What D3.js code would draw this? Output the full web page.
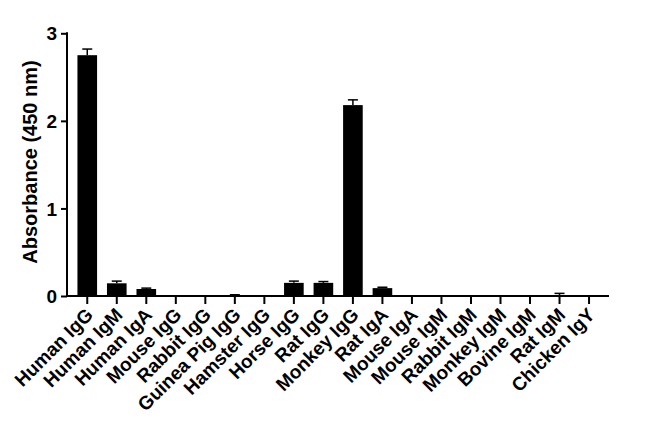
<!DOCTYPE html>
<html><head><meta charset="utf-8">
<script src="https://cdn.jsdelivr.net/npm/d3@7"></script>
<style>body{margin:0;background:#fff}svg{display:block}text{font-family:"Liberation Sans",Arial,sans-serif;font-weight:bold;fill:#000}</style>
</head><body><svg id="c" width="650" height="432"></svg>
<script>
const categories = ["Human IgG","Human IgM","Human IgA","Mouse IgG","Rabbit IgG","Guinea Pig IgG","Hamster IgG","Horse IgG","Rat IgG","Monkey IgG","Rat IgA","Mouse IgA","Mouse IgM","Rabbit IgM","Monkey IgM","Bovine IgM","Rat IgM","Chicken IgY"];
const values = [2.75,0.145,0.08,0,0,0.006,0,0.15,0.15,2.18,0.09,0,0,0,0,0,0.01,0];
const errors = [0.07,0.025,0.01,0,0,0.008,0,0.02,0.015,0.06,0.01,0,0,0,0,0,0.02,0];
const yTicks = [0,1,2,3];
const yLabel = "Absorbance (450 nm)";

const svg = d3.select("#c");
const x = d3.scaleBand().domain(categories).range([72.5,603.8]).paddingInner(0.335).paddingOuter(0.1675);
const y = d3.scaleLinear().domain([0,3]).range([296,33.3]);

// bars
svg.append("g").selectAll("rect").data(categories).join("rect")
  .attr("x", d=>x(d)).attr("width", x.bandwidth())
  .attr("y", (d,i)=>y(values[i])).attr("height",(d,i)=>y(0)-y(values[i]))
  .attr("fill","#000");
// error bars
const eg = svg.append("g").attr("stroke","#000").attr("stroke-width",1.5);
categories.forEach((c,i)=>{
  if(errors[i]<=0) return;
  const cx = x(c)+x.bandwidth()/2;
  eg.append("line").attr("x1",cx).attr("x2",cx).attr("y1",y(values[i])).attr("y2",y(values[i]+errors[i]));
  eg.append("line").attr("x1",cx-5).attr("x2",cx+5).attr("y1",y(values[i]+errors[i])).attr("y2",y(values[i]+errors[i]));
});

// y axis
const ya = svg.append("g").attr("transform","translate(67,0)")
  .call(d3.axisLeft(y).tickValues(yTicks).tickFormat(d3.format("d")).tickSize(6).tickPadding(4));
ya.select(".domain").attr("stroke-width",2).attr("d","M0,297V32.3");
ya.selectAll(".tick line").attr("stroke-width",2);
ya.selectAll(".tick text").style("font-size","19px").attr("dy","0.35em");

// x axis
const xa = svg.append("g").attr("transform","translate(0,296)")
  .call(d3.axisBottom(x).tickSize(8).tickSizeOuter(0));
xa.select(".domain").attr("stroke-width",2).attr("d","M66,0H609");
xa.selectAll(".tick line").attr("stroke-width",2);
xa.selectAll(".tick text").style("font-size","19px")
  .attr("text-anchor","end").attr("dy","0").attr("y",0)
  .attr("transform","translate(7,20) rotate(-45)");

svg.append("text").attr("transform","translate(37,162) rotate(-90)")
  .attr("text-anchor","middle").style("font-size","20px").text(yLabel);
</script></body></html>
